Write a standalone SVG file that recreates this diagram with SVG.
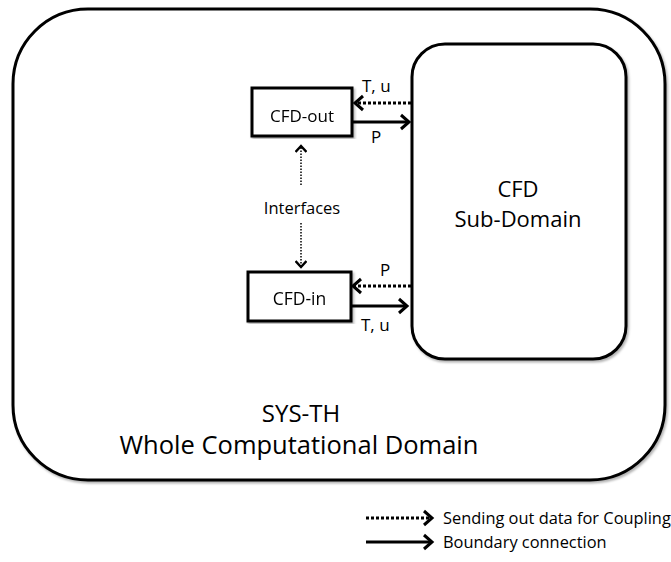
<svg xmlns="http://www.w3.org/2000/svg" width="671" height="562" viewBox="0 0 671 562">
  <defs>
    <style>
      .shape { fill: #fff; stroke: #000; stroke-width: 3; }
      .box { fill: #fff; stroke: #000; stroke-width: 3; }
      .solid { fill: none; stroke: #000; stroke-width: 3; }
      .data { fill: none; stroke: #000; stroke-width: 3; stroke-dasharray: 3 2; }
      .iface { fill: none; stroke: #000; stroke-width: 1.5; stroke-dasharray: 1.5 1.5; }
      text { font-family: "Open Sans", "Noto Sans", "DejaVu Sans", sans-serif; fill: #000; }
      .mid { text-anchor: middle; }
      .lbl { font-size: 17px; }
    </style>
    <filter id="shadow" x="-5%" y="-5%" width="110%" height="110%">
      <feDropShadow dx="1.5" dy="2" stdDeviation="1.2" flood-color="#000" flood-opacity="0.3"/>
    </filter>
    <marker id="head" markerWidth="14" markerHeight="18" refX="11" refY="9" orient="auto" markerUnits="userSpaceOnUse">
      <polyline points="3,2 11,9 3,16" fill="none" stroke="#000" stroke-width="3"/>
    </marker>
    <marker id="headSmall" markerWidth="16" markerHeight="12" refX="8" refY="6" orient="auto" markerUnits="userSpaceOnUse">
      <polyline points="2,0.5 8,6 2,11.5" fill="none" stroke="#000" stroke-width="2.5"/>
    </marker>
  </defs>

  <!-- whole computational domain -->
  <g id="sys-th" filter="url(#shadow)">
    <rect class="shape" x="13" y="9" width="652" height="471" rx="75" ry="75"/>
  </g>

  <!-- CFD sub-domain -->
  <g id="cfd-subdomain" filter="url(#shadow)">
    <rect class="shape" x="412" y="44" width="214" height="315" rx="33" ry="33"/>
  </g>
  <g id="cfd-subdomain-label">
    <text class="mid" x="518" y="197" font-size="22">CFD</text>
    <text class="mid" x="518" y="227" font-size="22">Sub-Domain</text>
  </g>

  <g id="cfd-out" filter="url(#shadow)">
    <rect class="box" x="252" y="88" width="100" height="48"/>
    <text class="mid" x="302" y="122" font-size="17">CFD-out</text>
  </g>

  <g id="cfd-in" filter="url(#shadow)">
    <rect class="box" x="248" y="272" width="103" height="49"/>
    <text class="mid" x="299.5" y="305" font-size="17.5">CFD-in</text>
  </g>

  <g id="domain-label">
    <text class="mid" x="301" y="422" font-size="24">SYS-TH</text>
    <text class="mid" x="299" y="454" font-size="25.5">Whole Computational Domain</text>
  </g>

  <!-- connectors -->
  <g id="connectors">
    <line class="data" x1="411" y1="103" x2="355" y2="103" marker-end="url(#head)"/>
    <line class="solid" x1="352" y1="122" x2="409" y2="122" marker-end="url(#head)"/>
    <line class="data" x1="411" y1="286" x2="353" y2="286" marker-end="url(#head)"/>
    <line class="solid" x1="351" y1="306" x2="407" y2="306" marker-end="url(#head)"/>
    <line class="iface" x1="301" y1="185" x2="301" y2="146" marker-end="url(#headSmall)"/>
    <line class="iface" x1="301" y1="223" x2="301" y2="267" marker-end="url(#headSmall)"/>

    <text class="lbl" x="362" y="92">T, u</text>
    <text class="lbl" x="371" y="143">P</text>
    <text class="lbl" x="380" y="276">P</text>
    <text class="lbl" x="361" y="331">T, u</text>
    <text class="mid" x="302" y="214" font-size="16.5">Interfaces</text>
  </g>

  <!-- legend -->
  <g id="legend">
    <line class="data" x1="366" y1="518" x2="432" y2="518" stroke-dasharray="2 1.5" marker-end="url(#head)"/>
    <text x="443" y="524" font-size="16.4">Sending out data for Coupling</text>
    <line class="solid" x1="366" y1="542" x2="432" y2="542" marker-end="url(#head)"/>
    <text x="443" y="548" font-size="16.4">Boundary connection</text>
  </g>
</svg>
